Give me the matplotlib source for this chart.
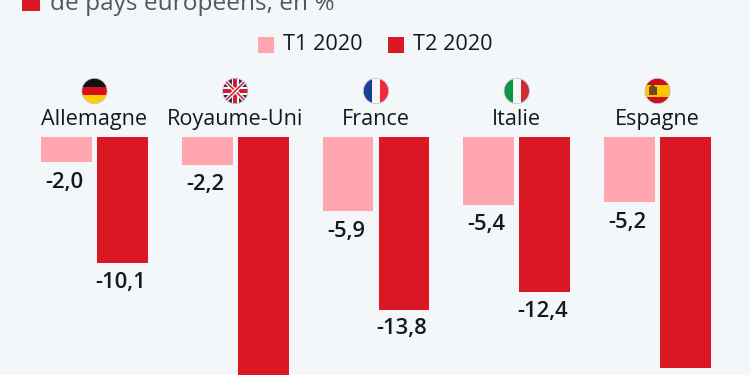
import matplotlib
matplotlib.use("Agg")
import matplotlib.pyplot as plt
from matplotlib.patches import Circle, Rectangle, Polygon

plt.rcParams['font.family'] = ['Open Sans', 'DejaVu Sans']

# --- data ---
COUNTRIES = ['Allemagne', 'Royaume-Uni', 'France', 'Italie', 'Espagne']
T1_2020 = [-2.0, -2.2, -5.9, -5.4, -5.2]
T2_2020 = [-10.1, -20.4, -13.8, -12.4, -18.5]
T1_LABELS = ['-2,0', '-2,2', '-5,9', '-5,4', '-5,2']
T2_LABELS = ['-10,1', '-20,4', '-13,8', '-12,4', '-18,5']
SERIES_NAMES = ['T1 2020', 'T2 2020']

BG = '#f4f7fa'
PINK = '#ffa6af'
RED = '#d91824'
DARK = '#16191c'
GREY = '#4f5961'

W, H = 750, 375
fig = plt.figure(figsize=(W / 100, H / 100), dpi=100, facecolor=BG)

# bars: one x unit = one country, y in percentage points
ax = fig.add_axes([0, 0, 1, 1])
ax.set_facecolor('none')
ax.axis('off')
ax.set_xlim(-0.671, 4.657)
ax.set_ylim(-19.04, 10.96)

xs = list(range(len(COUNTRIES)))
offset = 0.199
bar_w = 0.36
ax.bar([x - offset for x in xs], T1_2020, bar_w, color=PINK)
ax.bar([x + offset for x in xs], T2_2020, bar_w, color=RED)

for x, v, lab in zip(xs, T1_2020, T1_LABELS):
    ax.text(x - offset - 0.015, v - 1.62, lab, ha='center', va='center',
            fontsize=15.8, fontweight='semibold', color=DARK)
for x, v, lab in zip(xs, T2_2020, T2_LABELS):
    if v - 1.55 < ax.get_ylim()[0]:
        continue  # these two labels are below the bottom edge of the picture
    ax.text(x + offset - 0.015, v - 1.55, lab, ha='center', va='center',
            fontsize=15.8, fontweight='semibold', color=DARK)

for x, name in zip(xs, COUNTRIES):
    ax.text(x, 1.42, name, ha='center', va='center', fontsize=15.6, color=DARK)

# overlay in pixels for the title, legend and flags
ov = fig.add_axes([0, 0, 1, 1])
ov.set_facecolor('none')
ov.axis('off')
ov.set_xlim(0, W)
ov.set_ylim(H, 0)

ov.add_patch(Rectangle((22, -6), 18, 17, color=RED, lw=0))
ov.text(50, 10, 'de pays européens, en %', fontsize=17.6, color=GREY,
        ha='left', va='baseline')

ov.add_patch(Rectangle((258, 37), 16, 16, color=PINK, lw=0))
ov.text(283, 45, SERIES_NAMES[0], fontsize=15.6, color=DARK, ha='left', va='center')
ov.add_patch(Rectangle((388, 37), 16, 16, color=RED, lw=0))
ov.text(413, 45, SERIES_NAMES[1], fontsize=15.6, color=DARK, ha='left', va='center')


def flag_parts(name, cx, cy, r):
    left, top = cx - r, cy - r
    d = 2 * r
    parts = []
    if name == 'Allemagne':
        parts.append(Rectangle((left, top), d, d / 3, color='#111111', lw=0))
        parts.append(Rectangle((left, top + d / 3), d, d / 3, color='#d5101c', lw=0))
        parts.append(Rectangle((left, top + 2 * d / 3), d, d / 3, color='#ffce00', lw=0))
    elif name == 'Royaume-Uni':
        parts.append(Rectangle((left, top), d, d, color='#22346f', lw=0))
        for (a, b) in [((-1, -1), (1, 1)), ((-1, 1), (1, -1))]:
            for col, lw in [('#f4f4f4', 3.0), ('#cf1f2e', 1.1)]:
                line, = ov.plot([cx + a[0] * r, cx + b[0] * r], [cy + a[1] * r, cy + b[1] * r],
                                color=col, lw=lw, solid_capstyle='butt')
                parts.append(line)
        parts.append(Rectangle((cx - 3.6, top), 7.2, d, color='#f4f4f4', lw=0))
        parts.append(Rectangle((left, cy - 3.6), d, 7.2, color='#f4f4f4', lw=0))
        parts.append(Rectangle((cx - 2.2, top), 4.4, d, color='#cf1f2e', lw=0))
        parts.append(Rectangle((left, cy - 2.2), d, 4.4, color='#cf1f2e', lw=0))
    elif name == 'France':
        parts.append(Rectangle((left, top), d / 3, d, color='#1c3f94', lw=0))
        parts.append(Rectangle((left + d / 3, top), d / 3, d, color='#f6f6f6', lw=0))
        parts.append(Rectangle((left + 2 * d / 3, top), d / 3, d, color='#ee2a3c', lw=0))
    elif name == 'Italie':
        parts.append(Rectangle((left, top), d / 3, d, color='#0f9447', lw=0))
        parts.append(Rectangle((left + d / 3, top), d / 3, d, color='#f6f6f6', lw=0))
        parts.append(Rectangle((left + 2 * d / 3, top), d / 3, d, color='#cf2b37', lw=0))
    else:
        parts.append(Rectangle((left, top), d, d, color='#c8101e', lw=0))
        parts.append(Rectangle((left, top + d / 4), d, d / 2, color='#fcc500', lw=0))
        parts.append(Rectangle((cx - 9, cy - 4), 8.5, 8, color='#6e4a1e', lw=0))
        parts.append(Polygon([(cx - 8, cy - 4), (cx - 5, cy - 7), (cx - 2, cy - 4)],
                             closed=True, color='#6e4a1e', lw=0))
    return parts


for x, name in zip(xs, COUNTRIES):
    px = ax.transData.transform((x, 0))[0]
    cy, r = 91, 12.7
    clip = Circle((px, cy), r, transform=ov.transData)
    for part in flag_parts(name, px, cy, r):
        if part.axes is None:
            ov.add_artist(part)
        part.set_clip_path(clip)
    ov.add_patch(Circle((px, cy), r, fill=False, ec='#c9c9c9', lw=0.6))

fig.savefig('out.png', dpi=100, facecolor=BG)
